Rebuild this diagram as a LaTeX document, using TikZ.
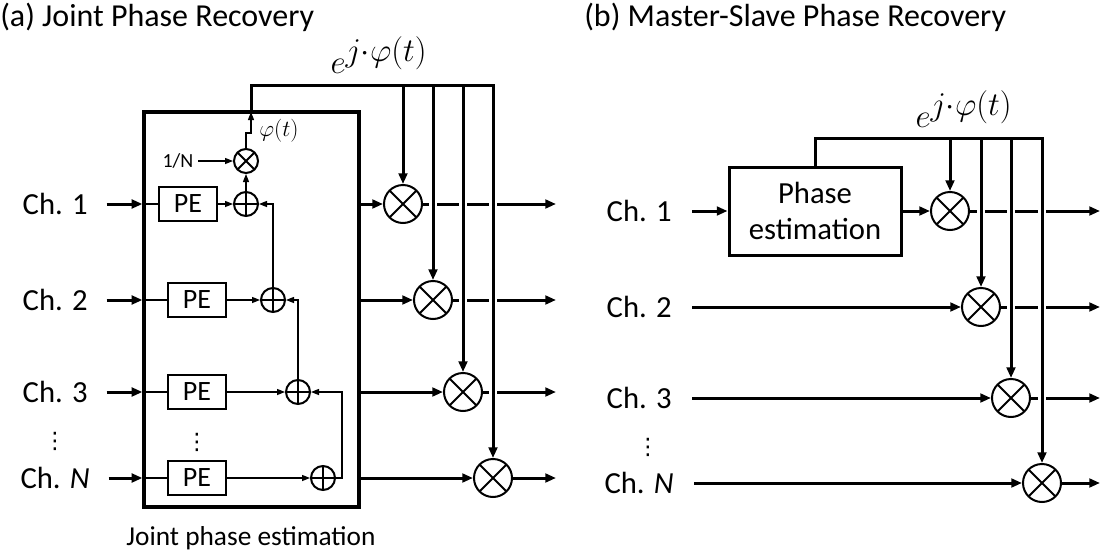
\documentclass[tikz,border=0pt]{standalone}
\usepackage{amsmath,amssymb}
\usepackage{fontspec}
\setmainfont{Carlito}
\newfontfamily\dotsfont{DejaVu Sans}
\usepackage{tikz}
\usetikzlibrary{arrows.meta,positioning,calc}
\newcommand{\chfont}{\fontsize{23}{27.5}\selectfont}
\newcommand{\titlefont}{\fontsize{24}{28}\selectfont}
\newcommand{\pefont}{\fontsize{21}{25}\selectfont}
\newcommand{\capfont}{\fontsize{20.5}{24}\selectfont}
\newcommand{\tinyfont}{\fontsize{15}{18}\selectfont}
\newcommand{\phifont}{\fontsize{17}{20}\selectfont}
\newcommand{\expfont}{\fontsize{35}{40}\selectfont}
\newcommand{\feed}[2]{\draw[casing] (#1) -- (#2); \draw[bus] (#1) -- (#2);}
\tikzset{
  bus/.style={line width=2.25pt,-{Triangle[length=8pt,width=6.5pt]}},
  wire/.style={line width=1pt,-{Triangle[length=6pt,width=4.5pt]}},
  plain/.style={line width=1pt},
  casing/.style={draw=white,line width=6pt,shorten <=4pt,shorten >=10pt},
  pebox/.style={draw,line width=1pt,minimum width=43.5pt,minimum height=25.5pt,inner sep=0pt,font=\pefont},
  adder/.style={circle,draw,line width=1.5pt,minimum size=18pt,inner sep=0pt,
    path picture={\draw[line width=1.5pt] (path picture bounding box.north) -- (path picture bounding box.south)
      (path picture bounding box.west) -- (path picture bounding box.east);}},
  mixer/.style={circle,draw,line width=1.5pt,minimum size=#1,inner sep=0pt,
    path picture={\draw[line width=1.5pt]
      ($(path picture bounding box.center)!0.7071!(path picture bounding box.north west)$) -- ($(path picture bounding box.center)!0.7071!(path picture bounding box.south east)$)
      ($(path picture bounding box.center)!0.7071!(path picture bounding box.north east)$) -- ($(path picture bounding box.center)!0.7071!(path picture bounding box.south west)$);}},
  mixer/.default=28.5pt,
  chlabel/.style={anchor=east,inner sep=0pt,font=\chfont},
  vdotlabel/.style={inner sep=0pt,font=\dotsfont\fontsize{17}{17}\selectfont}
}

\begin{document}
\begin{tikzpicture}[x=0.75pt,y=-0.75pt]
  \useasboundingbox (0,0) rectangle (1108,554);
  \node[anchor=base west,inner sep=0pt,font=\titlefont] (ta) at (0,26) {(a) Joint Phase Recovery};
  \node[anchor=base west,inner sep=0pt,font=\titlefont] (tb) at (584,26) {(b) Master-Slave Phase Recovery};
  \node[draw,line width=2.4pt,minimum width=161.25pt,minimum height=296.25pt] (jpe) at (251.5,309.5) {};
  \node[anchor=base,font=\capfont] (jcap) at (251,545) {Joint phase estimation};
  \node[chlabel] (ch1) at (88,204) {Ch. 1};
  \node[chlabel] (ch2) at (88,300) {Ch. 2};
  \node[chlabel] (ch3) at (88,392) {Ch. 3};
  \node[chlabel] (chn) at (90,478) {Ch. \textit{N}};
  \node[vdotlabel] (dl) at (55,441) {⋮};
  \node[pebox] (pe1) at (188,204) {PE};
  \node[pebox] (pe2) at (197,300) {PE};
  \node[pebox] (pe3) at (197,392) {PE};
  \node[pebox] (pe4) at (197,478) {PE};
  \node[vdotlabel] (dm) at (197,442) {⋮};
  \node[adder] (add1) at (246,204) {};
  \node[adder] (add2) at (273,300) {};
  \node[adder] (add3) at (298,392) {};
  \node[adder] (add4) at (323,478) {};
  \node[mixer=18pt] (mul0) at (246,161) {};
  \node[font=\tinyfont,anchor=east] (inv) at (198,161) {1/N};
  \node[font=\phifont] (phi) at (279,131) {$\varphi(t)$};
  \coordinate (jog) at (251,133); \coordinate (tap) at (251,112); \coordinate (loop) at (342,478);
  \draw[bus,shorten <=14pt] (ch1.east |- pe1) -- (pe1 -| jpe.west); \draw[plain] (pe1 -| jpe.west) -- (pe1);
  \draw[bus,shorten <=14pt] (ch2.east |- pe2) -- (pe2 -| jpe.west); \draw[plain] (pe2 -| jpe.west) -- (pe2);
  \draw[bus,shorten <=14pt] (ch3.east |- pe3) -- (pe3 -| jpe.west); \draw[plain] (pe3 -| jpe.west) -- (pe3);
  \draw[bus,shorten <=14pt] (chn.east |- pe4) -- (pe4 -| jpe.west); \draw[plain] (pe4 -| jpe.west) -- (pe4);
  \draw[wire] (pe1) -- (add1); \draw[wire] (pe2) -- (add2); \draw[wire] (pe3) -- (add3); \draw[wire] (pe4) -- (add4);
  \draw[wire] (add2) |- (add1); \draw[wire] (add3) |- (add2); \draw[wire] (add4) -- (loop) |- (add3);
  \draw[wire] (add1) -- (mul0); \draw[wire] (inv) -- (mul0);
  \draw[wire] (mul0) |- (jog) -- (tap);
  \node[mixer] (mul1) at (403,204) {};
  \node[mixer] (mul2) at (433,300) {};
  \node[mixer] (mul3) at (463,392) {};
  \node[mixer] (mul4) at (493,478) {};
  \coordinate (o1) at (556,204); \coordinate (o2) at (556,300); \coordinate (o3) at (556,392); \coordinate (o4) at (556,478);
  \coordinate (t1) at (403,85); \coordinate (t2) at (433,85); \coordinate (t3) at (463,85); \coordinate (t4) at (493,85);
  \node[font=\expfont] (ea) at (379,55) {$e^{j\cdot\varphi(t)}$};
  \draw[bus] (mul1 -| jpe.east) -- (mul1); \draw[bus] (mul1) -- (o1);
  \draw[bus] (mul2 -| jpe.east) -- (mul2); \draw[bus] (mul2) -- (o2);
  \draw[bus] (mul3 -| jpe.east) -- (mul3); \draw[bus] (mul3) -- (o3);
  \draw[bus] (mul4 -| jpe.east) -- (mul4); \draw[bus] (mul4) -- (o4);
  \feed{t1}{mul1} \feed{t2}{mul2} \feed{t3}{mul3}
  \draw[casing] (t4) -- (mul4); \draw[bus] (tap) |- (t4) -- (mul4);

  \node[chlabel] (rch1) at (672,211) {Ch. 1};
  \node[chlabel] (rch2) at (672,307) {Ch. 2};
  \node[chlabel] (rch3) at (672,398) {Ch. 3};
  \node[chlabel] (rchn) at (674,483) {Ch. \textit{N}};
  \node[vdotlabel] (dr) at (648,447) {⋮};
  \node[draw,line width=2.25pt,minimum width=129pt,minimum height=66pt,align=center,font=\chfont] (est) at (815,211) {Phase\\estimation};
  \node[mixer] (rmul1) at (950,211) {};
  \node[mixer] (rmul2) at (981,307) {};
  \node[mixer] (rmul3) at (1011,398) {};
  \node[mixer] (rmul4) at (1042,483) {};
  \coordinate (r1) at (1100,211); \coordinate (r2) at (1100,307); \coordinate (r3) at (1100,398); \coordinate (r4) at (1100,483);
  \coordinate (u1) at (950,138); \coordinate (u2) at (981,138); \coordinate (u3) at (1011,138); \coordinate (u4) at (1042,138);
  \node[font=\expfont] (eb) at (964,109) {$e^{j\cdot\varphi(t)}$};
  \draw[bus,shorten <=15pt] (rch1.east |- est) -- (est); \draw[bus] (est) -- (rmul1); \draw[bus] (rmul1) -- (r1);
  \draw[bus,shorten <=15pt] (rch2.east |- rmul2) -- (rmul2); \draw[bus] (rmul2) -- (r2);
  \draw[bus,shorten <=15pt] (rch3.east |- rmul3) -- (rmul3); \draw[bus] (rmul3) -- (r3);
  \draw[bus,shorten <=15pt] (rchn.east |- rmul4) -- (rmul4); \draw[bus] (rmul4) -- (r4);
  \feed{u1}{rmul1} \feed{u2}{rmul2} \feed{u3}{rmul3}
  \draw[casing] (u4) -- (rmul4); \draw[bus] (est) |- (u4) -- (rmul4);
\end{tikzpicture}
\end{document}
